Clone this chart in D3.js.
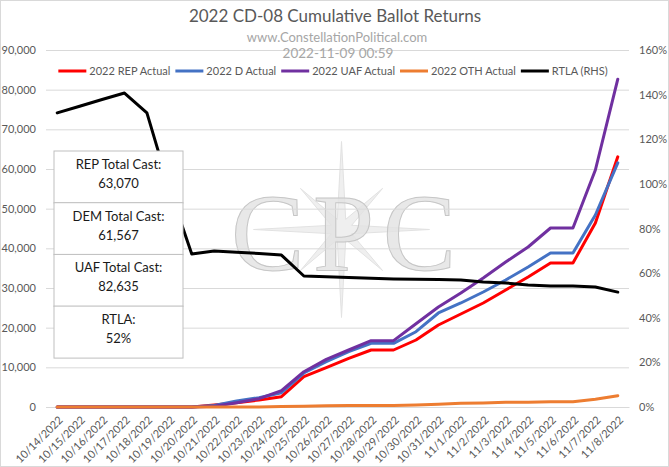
<!DOCTYPE html>
<html>
<head>
<meta charset="utf-8">
<script src="https://cdn.jsdelivr.net/npm/d3@7"></script>
<style>
  body { margin: 0; background: #fff; }
  svg { display: block; font-family: Lato, "Noto Sans", sans-serif; }
</style>
</head>
<body>
<div id="chart"></div>
<script>
// Chart data
const dates = ["10/14/2022","10/15/2022","10/16/2022","10/17/2022","10/18/2022","10/19/2022","10/20/2022",
  "10/21/2022","10/22/2022","10/23/2022","10/24/2022","10/25/2022","10/26/2022","10/27/2022","10/28/2022",
  "10/29/2022","10/30/2022","10/31/2022","11/1/2022","11/2/2022","11/3/2022","11/4/2022","11/5/2022",
  "11/6/2022","11/7/2022","11/8/2022"];
const repActual = [0,0,0,0,0,0,0,500,1100,1760,2600,7640,9910,12270,14370,14370,16890,20670,23450,26220,29500,32770,36300,36300,46390,63070];
const demActual = [0,0,0,0,0,0,0,400,1510,2350,3600,8570,11420,13940,16060,16060,18980,23700,26220,28990,32020,35290,38820,38820,48400,61567];
const uafActual = [0,0,0,0,0,0,0,200,1090,2100,4110,8900,12020,14370,16720,16720,21000,25210,28740,32520,36550,40340,45130,45130,59750,82635];
const othActual = [0,0,0,0,0,0,0,0,0,0,100,200,300,350,400,400,500,680,930,1000,1180,1180,1340,1340,1940,2850];
const rtla = [1.318,1.348,1.378,1.407,1.318,0.980,0.686,0.699,0.694,0.688,0.681,0.587,0.584,0.580,0.577,0.574,0.572,0.571,0.569,0.560,0.556,0.547,0.542,0.542,0.538,0.515];

const leftTicks = [0,10000,20000,30000,40000,50000,60000,70000,80000,90000];
const rightTicks = [0,0.2,0.4,0.6,0.8,1.0,1.2,1.4,1.6];

const seriesNames = ["2022 REP Actual","2022 D Actual","2022 UAF Actual","2022 OTH Actual","RTLA (RHS)"];
const seriesColors = ["#ff0000","#4472c4","#7030a0","#ed7d31","#000000"];

const boxLabels = ["REP Total Cast:","DEM Total Cast:","UAF Total Cast:","RTLA:"];
const boxValues = ["63,070","61,567","82,635","52%"];

const W = 669, H = 467;
const margin = {top: 50, right: 40, bottom: 60, left: 46};
const width = W - margin.left - margin.right;
const height = H - margin.top - margin.bottom;

const svg = d3.select("#chart")
  .append("svg")
  .attr("width", W)
  .attr("height", H);

// Chart border
svg.append("rect")
  .attr("x", 0.5).attr("y", 0.5)
  .attr("width", W - 1).attr("height", H - 1)
  .attr("fill", "#fff")
  .attr("stroke", "#d9d9d9");

const g = svg.append("g")
  .attr("transform", `translate(${margin.left},${margin.top})`);

// Scales
const x = d3.scalePoint().domain(dates).range([0, width]).padding(0.5);
const y = d3.scaleLinear().domain([0, 90000]).range([height, 0]);
const y2 = d3.scaleLinear().domain([0, 1.6]).range([height, 0]);

// Watermark (CPC compass logo)
const wm = g.append("g").attr("transform", `translate(${width / 2 + 4},${height / 2 + 1})`);
const starPts = d3.range(16).map(k => {
  const a = k * Math.PI / 8 - Math.PI / 2;
  const r = k % 4 === 0 ? 88 : (k % 2 === 0 ? 58 : 11);
  return [r * Math.cos(a), r * Math.sin(a)];
});
wm.append("path")
  .attr("d", d3.line()(starPts) + "Z")
  .attr("fill", "#efefef")
  .attr("stroke", "#e2e2e2");
wm.append("text")
  .attr("x", 2).attr("y", 40)
  .attr("text-anchor", "middle")
  .attr("textLength", 225)
  .attr("lengthAdjust", "spacing")
  .style("font-family", "'Liberation Serif', 'DejaVu Serif', serif")
  .style("font-size", "110px")
  .attr("fill", "#e2e2e2")
  .attr("stroke", "#c6c6c6")
  .attr("stroke-width", 1)
  .attr("fill-opacity", 0.8)
  .text("CPC");

// Left axis with gridlines
const yAxisG = g.append("g")
  .call(d3.axisLeft(y).tickValues(leftTicks).tickFormat(d3.format(",")).tickSize(-width).tickPadding(10));
yAxisG.select(".domain").remove();
yAxisG.selectAll("line").attr("stroke", "#d9d9d9");
yAxisG.selectAll("text").attr("fill", "#595959").style("font-size", "11px").style("font-family", "Lato");

// Right axis
const y2AxisG = g.append("g")
  .attr("transform", `translate(${width},0)`)
  .call(d3.axisRight(y2).tickValues(rightTicks).tickFormat(d3.format(".0%")).tickSize(0).tickPadding(10));
y2AxisG.select(".domain").remove();
y2AxisG.selectAll("text").attr("fill", "#595959").style("font-size", "11px").style("font-family", "Lato");

// Bottom axis with rotated date labels
const xAxisG = g.append("g")
  .attr("transform", `translate(0,${height})`)
  .call(d3.axisBottom(x).tickSize(0));
xAxisG.select(".domain").attr("stroke", "#d9d9d9");
xAxisG.selectAll("text")
  .attr("x", 0).attr("y", 0).attr("dy", "0.35em")
  .attr("text-anchor", "end")
  .attr("transform", "translate(3,11) rotate(-45)")
  .attr("fill", "#595959")
  .style("font-size", "11px")
  .style("font-family", "Lato");

// Lines
const leftSeries = [repActual, demActual, uafActual, othActual];
const line = d3.line().x((d, i) => x(dates[i])).y(d => y(d));
const line2 = d3.line().x((d, i) => x(dates[i])).y(d => y2(d));

leftSeries.forEach((s, k) => {
  g.append("path")
    .datum(s)
    .attr("d", line)
    .attr("fill", "none")
    .attr("stroke", seriesColors[k])
    .attr("stroke-width", 3)
    .attr("stroke-linejoin", "round")
    .attr("stroke-linecap", "round");
});
g.append("path")
  .datum(rtla)
  .attr("d", line2)
  .attr("fill", "none")
  .attr("stroke", seriesColors[4])
  .attr("stroke-width", 3)
  .attr("stroke-linejoin", "round")
  .attr("stroke-linecap", "round");

// Title and subtitles
svg.append("text")
  .attr("x", 335).attr("y", 22)
  .attr("text-anchor", "middle")
  .attr("fill", "#595959")
  .style("font-size", "17px")
  .text("2022 CD-08 Cumulative Ballot Returns");
svg.append("text")
  .attr("x", 337).attr("y", 42)
  .attr("text-anchor", "middle")
  .attr("fill", "#a6a6a6")
  .style("font-size", "13px")
  .text("www.ConstellationPolitical.com");
svg.append("text")
  .attr("x", 338).attr("y", 57.5)
  .attr("text-anchor", "middle")
  .attr("fill", "#a6a6a6")
  .style("font-size", "13.5px")
  .text("2022-11-09 00:59");

// Legend
const legend = svg.append("g").attr("transform", "translate(0,71)");
let lx = 0;
seriesNames.forEach((name, k) => {
  const item = legend.append("g").attr("transform", `translate(${lx},0)`);
  item.append("line")
    .attr("x1", 0).attr("x2", 28)
    .attr("stroke", seriesColors[k])
    .attr("stroke-width", 3);
  const t = item.append("text")
    .attr("x", 31).attr("dy", "0.35em")
    .attr("fill", "#595959")
    .style("font-size", "11px")
    .text(name);
  lx += 31 + t.node().getComputedTextLength() + 5;
});
legend.attr("transform", `translate(${333 - (lx - 5) / 2},71)`);

// Summary text boxes
const boxes = svg.append("g");
boxLabels.forEach((label, i) => {
  const top = 151 + i * 51.7;
  const b = boxes.append("g").attr("transform", `translate(54,${top})`);
  b.append("rect")
    .attr("width", 129).attr("height", 52)
    .attr("fill", "#fff")
    .attr("stroke", "#bfbfbf");
  b.append("text")
    .attr("x", 64.5).attr("y", 18)
    .attr("text-anchor", "middle")
    .attr("fill", "#1a1a1a")
    .style("font-size", "13px")
    .text(label);
  b.append("text")
    .attr("x", 64.5).attr("y", 37)
    .attr("text-anchor", "middle")
    .attr("fill", "#1a1a1a")
    .style("font-size", "13px")
    .text(boxValues[i]);
});
</script>
</body>
</html>
